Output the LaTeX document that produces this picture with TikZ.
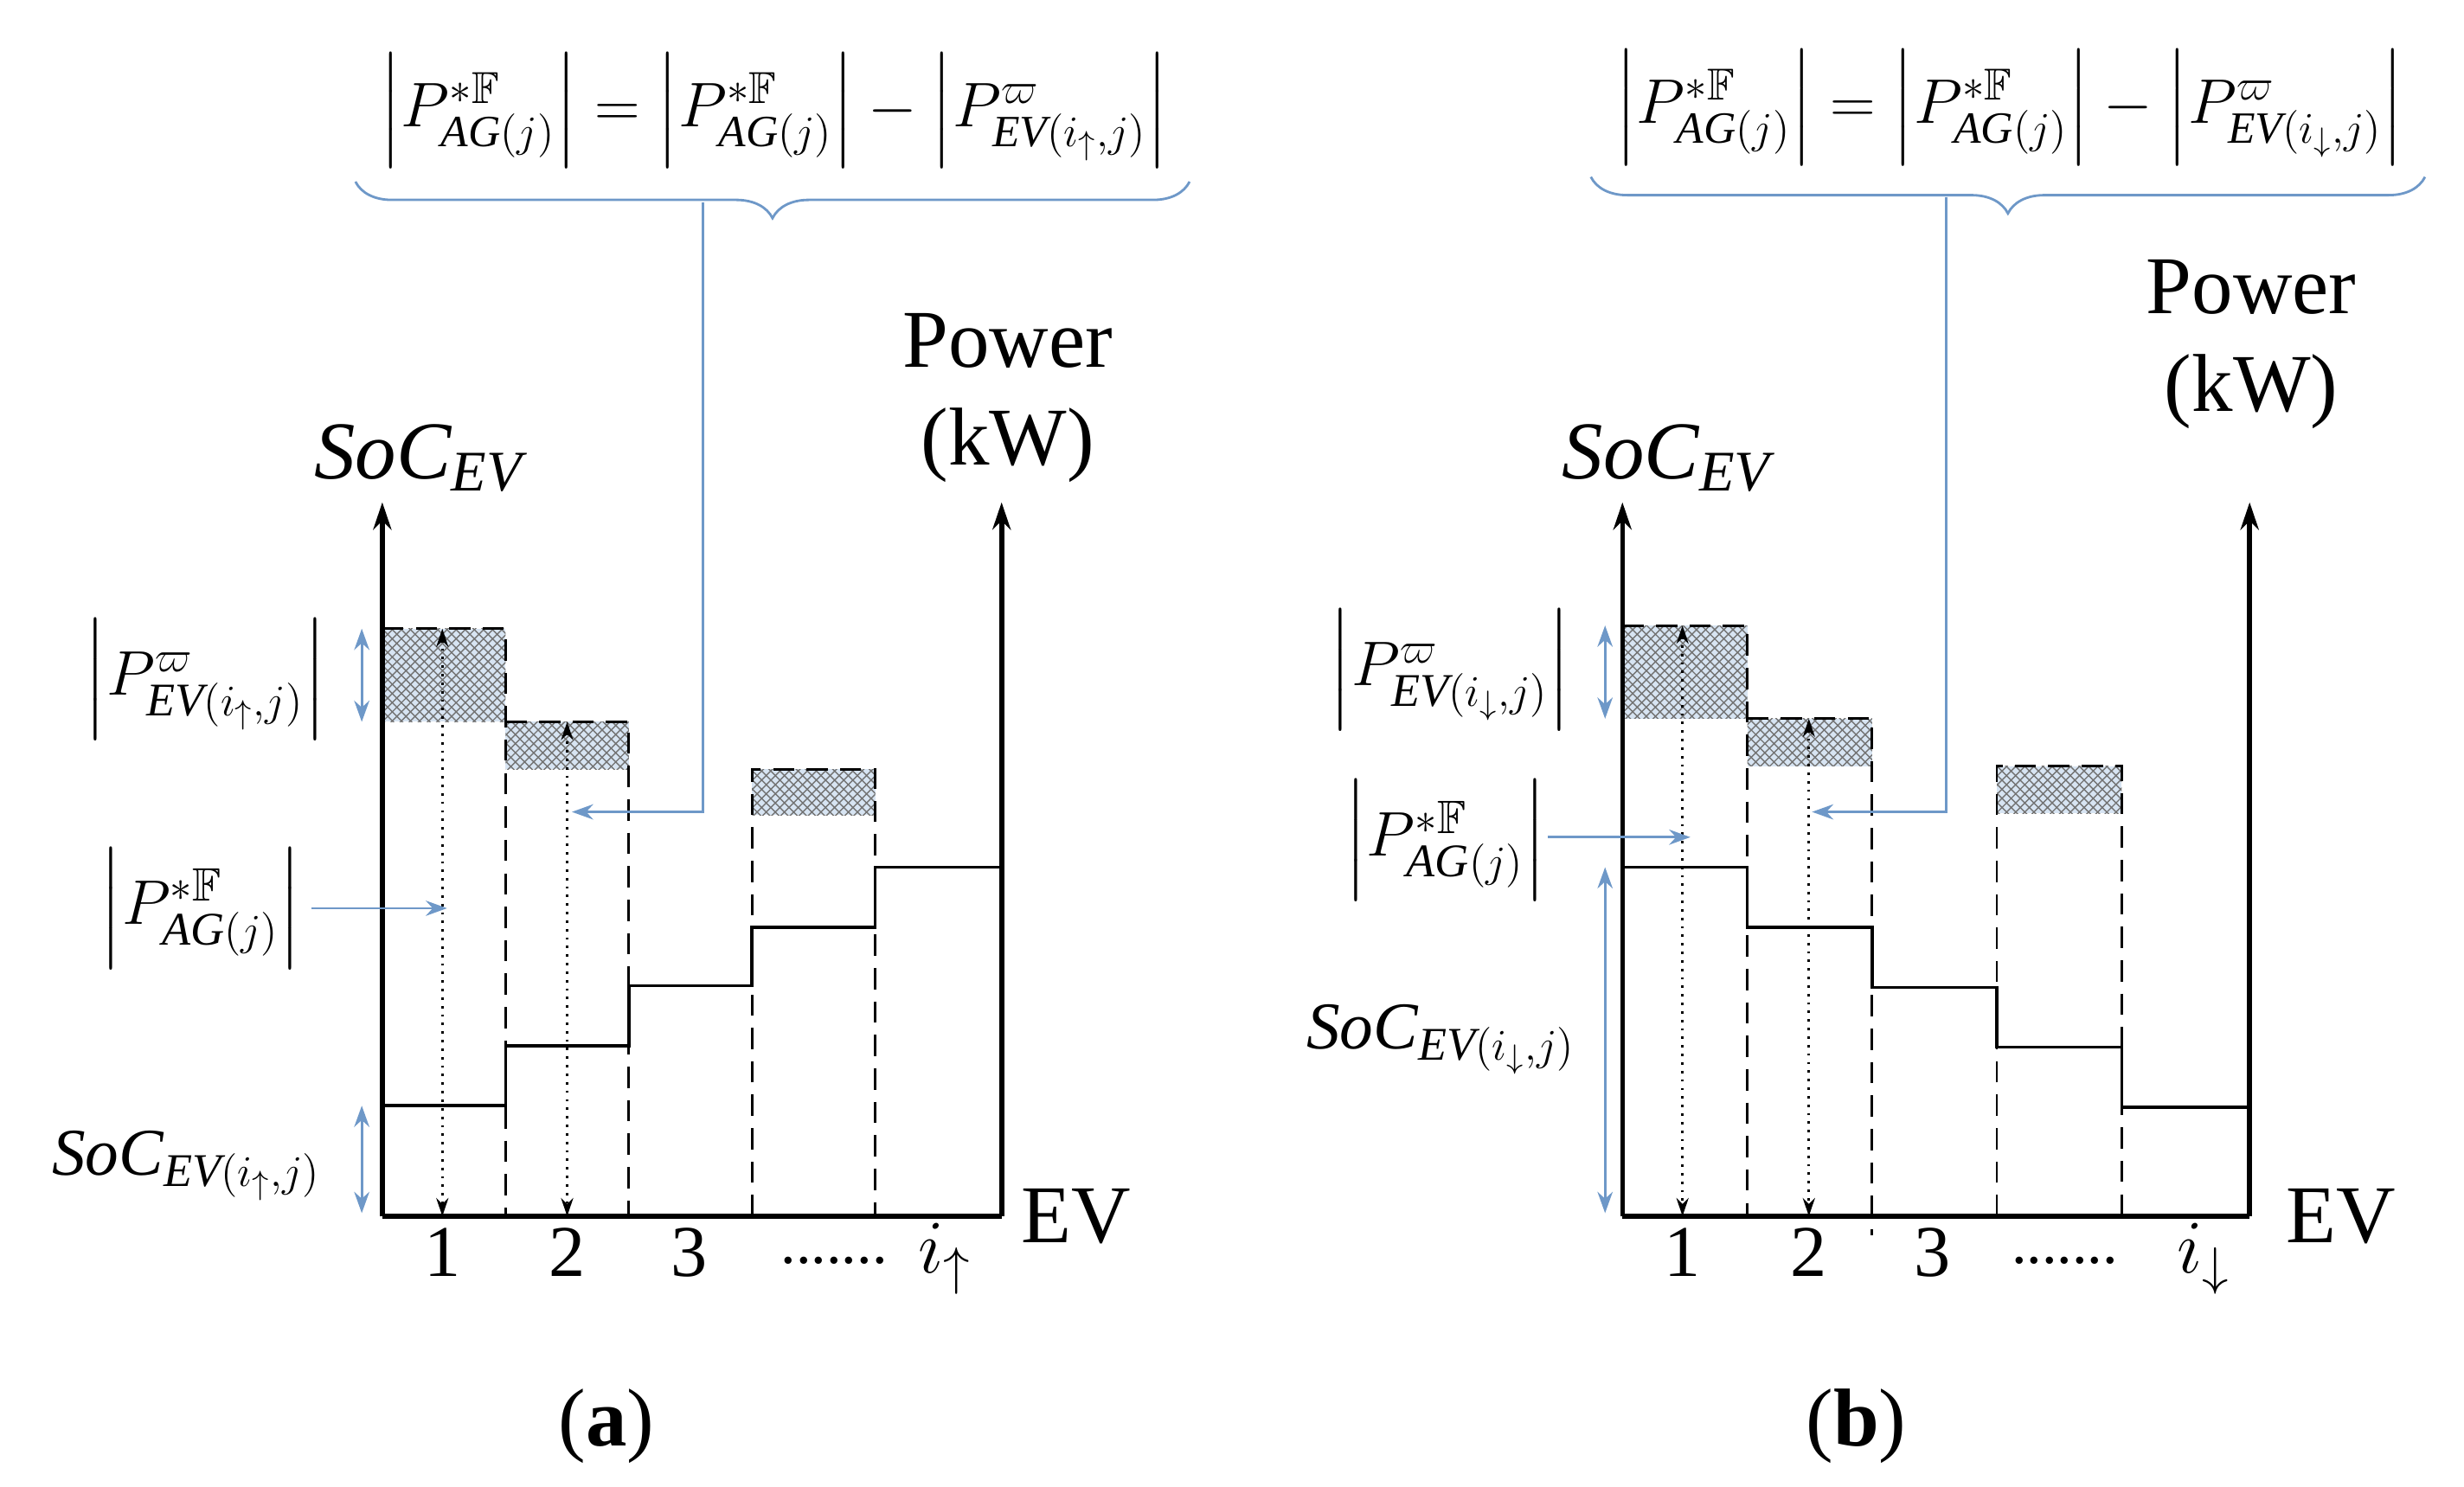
\documentclass[tikz,border=0pt]{standalone}
\usepackage{amssymb}
\usepackage{fontspec}
\setmainfont{Liberation Serif}
\usetikzlibrary{arrows.meta,patterns,decorations.pathreplacing}
\definecolor{bl}{RGB}{110,152,200}
\definecolor{hf}{RGB}{215,228,242}
\begin{document}
\begin{tikzpicture}[x=0.01826cm,y=-0.01826cm,
  axis/.style={line width=1.6pt,-{Stealth[length=9pt,width=6pt]}},
  base/.style={line width=1.6pt},
  stepl/.style={line width=1pt},
  dsh/.style={line width=0.8pt,dash pattern=on 7pt off 4pt},
  hatch/.style={fill=hf,postaction={pattern=crosshatch,pattern color=black!55}},
  dotarr/.style={line width=0.8pt,dotted,{Stealth[length=6pt,width=4pt]}-{Stealth[length=6pt,width=4pt]}},
  blue1/.style={draw=bl},
  barr/.style={blue1,line width=0.8pt,-{Stealth[length=7pt,width=5pt]}},
  bdbl/.style={blue1,line width=0.8pt,{Stealth[length=7pt,width=5pt]}-{Stealth[length=7pt,width=5pt]}},
  txt/.style={font=\fontsize{27}{32}\selectfont,inner sep=0pt},
  num/.style={font=\fontsize{24}{28}\selectfont,inner sep=0pt},
  dts/.style={font=\fontsize{20}{24}\selectfont,inner sep=0pt,anchor=base},
  mth/.style={font=\fontsize{22}{26}\selectfont,inner sep=0pt},
  eqs/.style={font=\fontsize{21}{25}\selectfont,inner sep=0pt}]
\useasboundingbox (0,0) rectangle (1559.7,941.4);
% ================= panel (a)
\fill[hatch] (242,398) rectangle (320,457);
\fill[hatch] (320,457) rectangle (398,487);
\fill[hatch] (476,487) rectangle (554,516);
\draw[dsh] (242,398) -- (320,398) -- (320,770);
\draw[dsh] (320,457) -- (398,457) -- (398,770);
\draw[dsh] (476,770) -- (476,487) -- (554,487) -- (554,770);
\draw[stepl] (242,700) -- (320,700) -- (320,662) -- (398,662) -- (398,624) -- (476,624) -- (476,587) -- (554,587) -- (554,549) -- (634,549);
\draw[dotarr] (280,398) -- (280,770);
\draw[dotarr] (359,457) -- (359,770);
\draw[base] (242,770) -- (634,770);
\draw[axis] (242,770) -- (242,318);
\draw[axis] (634,770) -- (634,318);
\draw[bdbl] (229,398) -- (229,457);
\draw[bdbl] (229,700) -- (229,768);
\node[txt] (socA) at (265,290) {$\mathit{SoC}_{\mathit{EV}}$};
\node[txt,align=center] (powA) at (638,252) {Power\\(kW)};
\node[txt] (evA) at (681,770) {EV};
\node[num] (n1a) at (280,793) {1};
\node[num] (n2a) at (359,793) {2};
\node[num] (n3a) at (436,793) {3};
\node[dts] (dta) at (528,800) {.......};
\node[num] (iua) at (598,797) {$i_\uparrow$};
\node[txt] (capa) at (384,903) {(\textbf{a})};
\node[mth] (pwa) at (130,430) {$\left|P^{\varpi}_{\mathit{EV}(i_\uparrow,j)}\right|$};
\node[mth] (pfa) at (127,575) {$\left|P^{*\mathbb{F}}_{\mathit{AG}(j)}\right|$};
\node[mth] (soca) at (118,738) {$\mathit{SoC}_{\mathit{EV}(i_\uparrow,j)}$};
\coordinate (sa) at (197,575);
\coordinate (ta) at (283,575);
\draw[barr] (sa) -- (ta);
\node[eqs] (eqa) at (490,70) {$\left|P^{*\mathbb{F}}_{\mathit{AG}(j)}\right|=\left|P^{*\mathbb{F}}_{\mathit{AG}(j)}\right|-\left|P^{\varpi}_{\mathit{EV}(i_\uparrow,j)}\right|$};
\draw[blue1,line width=0.8pt,decorate,decoration={brace,mirror,amplitude=12pt}] (225,115) -- (753,115);
\coordinate (ca) at (362,514);
\draw[barr] (445,128) -- (445,514) -- (ca);
% ================= panel (b)
\fill[hatch] (1027,396) rectangle (1106,455);
\fill[hatch] (1106,455) rectangle (1185,485);
\fill[hatch] (1264,485) rectangle (1343,515);
\draw[dsh] (1027,396) -- (1106,396) -- (1106,770);
\draw[dsh] (1106,455) -- (1185,455) -- (1185,782);
\draw[dsh] (1264,770) -- (1264,485) -- (1343,485) -- (1343,770);
\draw[stepl] (1027,549) -- (1106,549) -- (1106,587) -- (1185,587) -- (1185,625) -- (1264,625) -- (1264,663) -- (1343,663) -- (1343,701) -- (1424,701);
\draw[dotarr] (1065,396) -- (1065,770);
\draw[dotarr] (1145,455) -- (1145,770);
\draw[base] (1027,770) -- (1424,770);
\draw[axis] (1027,770) -- (1027,318);
\draw[axis] (1424,770) -- (1424,318);
\draw[bdbl] (1016,396) -- (1016,455);
\draw[bdbl] (1016,549) -- (1016,768);
\node[txt] (socB) at (1055,290) {$\mathit{SoC}_{\mathit{EV}}$};
\node[txt,align=center] (powB) at (1425,218) {Power\\(kW)};
\node[txt] (evB) at (1482,770) {EV};
\node[num] (n1b) at (1065,793) {1};
\node[num] (n2b) at (1145,793) {2};
\node[num] (n3b) at (1223,793) {3};
\node[dts] (dtb) at (1307,800) {.......};
\node[num] (iub) at (1395,797) {$i_\downarrow$};
\node[txt] (capb) at (1175,903) {(\textbf{b})};
\node[mth] (pwb) at (918,424) {$\left|P^{\varpi}_{\mathit{EV}(i_\downarrow,j)}\right|$};
\node[mth] (pfb) at (915,532) {$\left|P^{*\mathbb{F}}_{\mathit{AG}(j)}\right|$};
\node[mth] (socb) at (912,658) {$\mathit{SoC}_{\mathit{EV}(i_\downarrow,j)}$};
\coordinate (sb) at (980,530);
\coordinate (tb) at (1070,530);
\draw[barr] (sb) -- (tb);
\node[eqs] (eqb) at (1272,68) {$\left|P^{*\mathbb{F}}_{\mathit{AG}(j)}\right|=\left|P^{*\mathbb{F}}_{\mathit{AG}(j)}\right|-\left|P^{\varpi}_{\mathit{EV}(i_\downarrow,j)}\right|$};
\draw[blue1,line width=0.8pt,decorate,decoration={brace,mirror,amplitude=12pt}] (1007,112) -- (1535,112);
\coordinate (cb) at (1147,514);
\draw[barr] (1232,125) -- (1232,514) -- (cb);
\end{tikzpicture}
\end{document}
